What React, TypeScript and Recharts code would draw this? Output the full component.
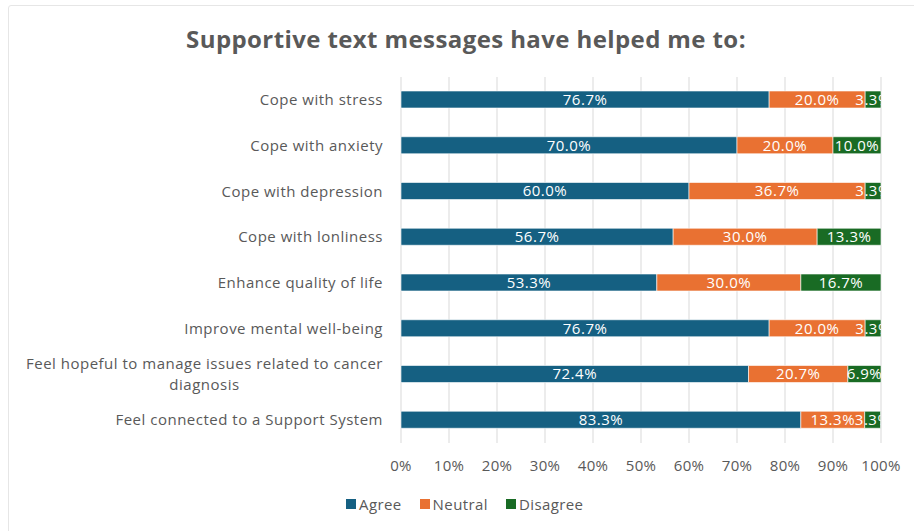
import { Bar, BarChart, CartesianGrid, LabelList, Legend, XAxis, YAxis } from "recharts";

const CATEGORIES = [
  "Cope with stress",
  "Cope with anxiety",
  "Cope with depression",
  "Cope with lonliness",
  "Enhance quality of life",
  "Improve mental well-being ",
  "Feel hopeful to manage issues related to cancer\ndiagnosis",
  "Feel connected to a Support System",
];
const AGREE = [76.7, 70.0, 60.0, 56.7, 53.3, 76.7, 72.4, 83.3];
const NEUTRAL = [20.0, 20.0, 36.7, 30.0, 30.0, 20.0, 20.7, 13.3];
const DISAGREE = [3.3, 10.0, 3.3, 13.3, 16.7, 3.3, 6.9, 3.3];
const X_TICKS = [0, 0.1, 0.2, 0.3, 0.4, 0.5, 0.6, 0.7, 0.8, 0.9, 1];

const SERIES = [
  { key: "agree", name: "Agree", color: "#156082" },
  { key: "neutral", name: "Neutral", color: "#E97132" },
  { key: "disagree", name: "Disagree", color: "#196B24" },
];

const FONT = "'Open Sans', sans-serif";
const GRAY = "#595959";
const FS = 15;
const LS = 0.5;

const data = CATEGORIES.map((name, i) => ({
  name,
  agree: AGREE[i] / 100,
  neutral: NEUTRAL[i] / 100,
  disagree: DISAGREE[i] / 100,
}));

let canvasCtx: CanvasRenderingContext2D | null = null;
function textWidth(s: string, font: string) {
  if (!canvasCtx) canvasCtx = document.createElement("canvas").getContext("2d");
  if (!canvasCtx) return s.length * 7.5;
  canvasCtx.font = font;
  return canvasCtx.measureText(s).width + s.length * LS;
}

function CategoryTick(props: any) {
  const { x, y, payload } = props;
  const lines: string[] = String(payload.value).split("\n");
  const common = { fill: GRAY, fontSize: FS, fontFamily: FONT, letterSpacing: LS };
  if (lines.length === 1) {
    return (
      <text x={x} y={y} dy="0.35em" textAnchor="end" {...common}>
        {lines[0]}
      </text>
    );
  }
  const w = textWidth(lines[0], `${FS}px ${FONT}`);
  const lh = 21;
  const top = y - ((lines.length - 1) * lh) / 2;
  return (
    <g>
      {lines.map((l, i) => (
        <text
          key={i}
          x={i === 0 ? x : x - w / 2}
          y={top + i * lh}
          dy="0.35em"
          textAnchor={i === 0 ? "end" : "middle"}
          {...common}
        >
          {l}
        </text>
      ))}
    </g>
  );
}

function makeLabel(clipRight: boolean) {
  return function BarLabel(props: any) {
    const { x, y, width, height, value, index } = props;
    const id = `clip-${index}`;
    const text = `${(value * 100).toFixed(1)}%`;
    return (
      <g>
        {clipRight ? (
          <defs>
            <clipPath id={id}>
              <rect x={x + width - 200} y={y - 5} width={200} height={height + 10} />
            </clipPath>
          </defs>
        ) : null}
        <text
          x={x + width / 2}
          y={y + height / 2}
          dy="0.36em"
          textAnchor="middle"
          fill="#ffffff"
          fontSize={FS}
          fontFamily={FONT}
          letterSpacing={LS}
          clipPath={clipRight ? `url(#${id})` : undefined}
        >
          {text}
        </text>
      </g>
    );
  };
}

function LegendContent() {
  return (
    <div
      style={{
        display: "flex",
        gap: 18,
        fontFamily: FONT,
        fontSize: FS,
        letterSpacing: 0.4,
        color: GRAY,
      }}
    >
      {SERIES.map((s) => (
        <div key={s.key} style={{ display: "flex", alignItems: "center", gap: 3 }}>
          <span style={{ display: "inline-block", width: 10, height: 10, background: s.color }} />
          <span>{s.name}</span>
        </div>
      ))}
    </div>
  );
}

export default function App() {
  return (
    <div style={{ position: "absolute", left: 0, top: 0, width: 914, height: 531, background: "#fff", overflow: "hidden" }}>
      <div
        style={{
          position: "absolute",
          left: 8,
          top: 5,
          width: 920,
          height: 540,
          border: "1px solid #e6e6e6",
          borderRadius: 3,
        }}
      />
      <div
        style={{
          position: "absolute",
          left: 0,
          top: 22,
          width: 932,
          textAlign: "center",
          fontFamily: FONT,
          fontWeight: 700,
          fontSize: 24,
          letterSpacing: 0.4,
          color: GRAY,
        }}
      >
        Supportive text messages have helped me to:
      </div>
      <BarChart
        width={914}
        height={531}
        data={data}
        layout="vertical"
        margin={{ top: 77, right: 33, left: 0, bottom: 58 }}
        barSize={17}
        style={{ position: "absolute", left: 0, top: 0 }}
      >
        <CartesianGrid horizontal={false} stroke="#d9d9d9" />
        <XAxis
          type="number"
          domain={[0, 1]}
          ticks={X_TICKS}
          tickFormatter={(v: number) => `${Math.round(v * 100)}%`}
          axisLine={false}
          tickLine={false}
          tickMargin={11}
          height={30}
          tick={{ fill: GRAY, fontSize: FS, fontFamily: FONT, letterSpacing: 0.3 }}
          interval={0}
        />
        <YAxis
          type="category"
          dataKey="name"
          width={401}
          axisLine={false}
          tickLine={false}
          tickMargin={12}
          tick={<CategoryTick />}
          interval={0}
        />
        {SERIES.map((s, i) => (
          <Bar
            key={s.key}
            dataKey={s.key}
            name={s.name}
            stackId="a"
            fill={s.color}
            stroke="#ffffff"
            strokeWidth={0.6}
            isAnimationActive={false}
          >
            <LabelList dataKey={s.key} content={makeLabel(i === SERIES.length - 1)} />
          </Bar>
        ))}
        <Legend
          layout="horizontal"
          verticalAlign="middle"
          align="center"
          content={<LegendContent />}
          wrapperStyle={{ left: 346, top: 494, width: "auto" }}
        />
      </BarChart>
    </div>
  );
}
